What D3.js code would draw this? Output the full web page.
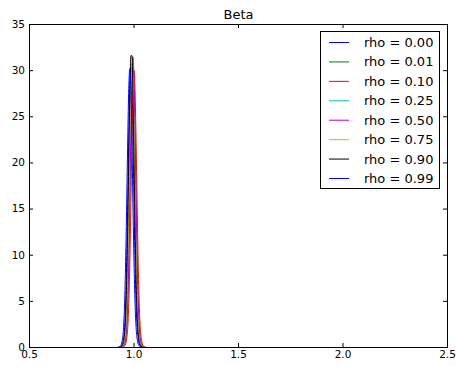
<!DOCTYPE html>
<html>
<head>
<meta charset="utf-8">
<script src="https://cdn.jsdelivr.net/npm/d3@7"></script>
<style>
  body { margin: 0; background: #fff; }
  svg { display: block; }
</style>
</head>
<body>
<div id="wrapper"></div>
<script>
// x grid shared by all curves (0.920 .. 1.065, step 0.005)
const xGrid = [0.920, 0.925, 0.930, 0.935, 0.940, 0.945, 0.950, 0.955, 0.960, 0.965,
    0.970, 0.975, 0.980, 0.985, 0.990, 0.995, 1.000, 1.005, 1.010, 1.015,
    1.020, 1.025, 1.030, 1.035, 1.040, 1.045, 1.050, 1.055, 1.060, 1.065];

const seriesLabels = ["rho = 0.00", "rho = 0.01", "rho = 0.10", "rho = 0.25",
    "rho = 0.50", "rho = 0.75", "rho = 0.90", "rho = 0.99"];

const rho000 = [0, 0.01, 0.03, 0.07, 0.17, 0.40, 0.94, 2.19, 4.83, 9.36, 15.69, 22.65, 28.24, 30.4,
    28.24, 22.65, 15.69, 9.36, 4.83, 2.19, 0.94, 0.40, 0.17, 0.07, 0.03, 0.01, 0, 0, 0, 0];
const rho001 = [0, 0, 0, 0.01, 0.03, 0.07, 0.17, 0.39, 0.94, 2.17, 4.80, 9.30, 15.58, 22.50, 28.06,
    30.2, 28.06, 22.50, 15.58, 9.30, 4.80, 2.17, 0.94, 0.39, 0.17, 0.07, 0.03, 0.01, 0, 0];
const rho010 = [0, 0, 0, 0, 0.01, 0.03, 0.07, 0.17, 0.39, 0.93, 2.16, 4.77, 9.24, 15.48, 22.35, 27.87,
    30.0, 27.87, 22.35, 15.48, 9.24, 4.77, 2.16, 0.93, 0.39, 0.17, 0.07, 0.03, 0.01, 0];
const rho025 = [0, 0, 0, 0.02, 0.05, 0.11, 0.26, 0.61, 1.42, 3.27, 6.85, 12.30, 19.15, 25.69, 29.75,
    29.75, 25.69, 19.15, 12.30, 6.85, 3.27, 1.42, 0.61, 0.26, 0.11, 0.05, 0.02, 0, 0, 0];
const rho050 = [0, 0, 0, 0.01, 0.03, 0.07, 0.17, 0.41, 0.98, 2.27, 5.01, 9.70, 16.25, 23.47, 29.26,
    31.5, 29.26, 23.47, 16.25, 9.70, 5.01, 2.27, 0.98, 0.41, 0.17, 0.07, 0.03, 0.01, 0, 0];
const rho075 = [0, 0, 0.01, 0.03, 0.07, 0.17, 0.40, 0.95, 2.22, 4.90, 9.49, 15.89, 22.95, 28.61, 30.8,
    28.61, 22.95, 15.89, 9.49, 4.90, 2.22, 0.95, 0.40, 0.17, 0.07, 0.03, 0.01, 0, 0, 0];
const rho090 = [0, 0, 0.02, 0.05, 0.11, 0.27, 0.64, 1.51, 3.48, 7.28, 13.07, 20.35, 27.31, 31.62, 31.62,
    27.31, 20.35, 13.07, 7.28, 3.48, 1.51, 0.64, 0.27, 0.11, 0.05, 0.02, 0, 0, 0, 0];
const rho099 = [0.01, 0.03, 0.07, 0.17, 0.39, 0.94, 2.17, 4.80, 9.30, 15.58, 22.50, 28.06, 30.2, 28.06,
    22.50, 15.58, 9.30, 4.80, 2.17, 0.94, 0.39, 0.17, 0.07, 0.03, 0.01, 0, 0, 0, 0, 0];

const seriesValues = [rho000, rho001, rho010, rho025, rho050, rho075, rho090, rho099];
const seriesColors = ["#0000ff", "#008000", "#ff0000", "#00bfbf", "#bf00bf", "#bfbf00", "#000000", "#0000ff"];

const xTicks = [0.5, 1.0, 1.5, 2.0, 2.5];
const yTicks = [0, 5, 10, 15, 20, 25, 30, 35];

const FONT = "'DejaVu Sans', sans-serif";

const width = 456;
const height = 366;

const svg = d3.select("#wrapper")
    .append("svg")
    .attr("width", width)
    .attr("height", height);

const xScale = d3.scaleLinear()
    .domain([0.5, 2.5])
    .range([29, 447]);

const yScale = d3.scaleLinear()
    .domain([0, 35])
    .range([347, 24]);

svg.append("defs").append("clipPath")
    .attr("id", "plot-clip")
    .append("rect")
    .attr("x", 29.5)
    .attr("y", 24.5)
    .attr("width", 418)
    .attr("height", 323);

// curves
const lineGen = d3.line()
    .x((d, i) => xScale(xGrid[i]) + 0.5)
    .y(d => yScale(d) + 0.5)
    .curve(d3.curveMonotoneX);

const curves = svg.append("g").attr("clip-path", "url(#plot-clip)");
seriesValues.forEach((vals, i) => {
    curves.append("path")
        .attr("d", lineGen(vals))
        .attr("fill", "none")
        .attr("stroke", seriesColors[i])
        .attr("stroke-width", 1);
});

// axes (inward ticks on all four sides)
const styleAxis = g => {
    g.select(".domain").remove();
    g.selectAll(".tick line").attr("stroke", "#000");
    g.selectAll("text")
        .attr("fill", "#000")
        .style("font-family", FONT)
        .style("font-size", "10.5px");
};

svg.append("g")
    .attr("transform", "translate(0,347)")
    .call(d3.axisBottom(xScale).tickValues(xTicks).tickFormat(d3.format(".1f"))
        .tickSizeInner(-4).tickSizeOuter(0).tickPadding(4))
    .call(styleAxis);

svg.append("g")
    .attr("transform", "translate(0,24)")
    .call(d3.axisTop(xScale).tickValues(xTicks).tickFormat("")
        .tickSizeInner(-4).tickSizeOuter(0))
    .call(styleAxis);

svg.append("g")
    .attr("transform", "translate(29,0)")
    .call(d3.axisLeft(yScale).tickValues(yTicks).tickFormat(d3.format("d"))
        .tickSizeInner(-4).tickSizeOuter(0).tickPadding(4))
    .call(styleAxis);

svg.append("g")
    .attr("transform", "translate(447,0)")
    .call(d3.axisRight(yScale).tickValues(yTicks).tickFormat("")
        .tickSizeInner(-4).tickSizeOuter(0))
    .call(styleAxis);

// frame
svg.append("rect")
    .attr("x", 29.5)
    .attr("y", 24.5)
    .attr("width", 418)
    .attr("height", 323)
    .attr("fill", "none")
    .attr("stroke", "#000")
    .attr("stroke-width", 1);

// title
svg.append("text")
    .attr("x", 238.5)
    .attr("y", 19)
    .attr("text-anchor", "middle")
    .style("font-family", FONT)
    .style("font-size", "13px")
    .text("Beta");

// legend
const legend = svg.append("g");
legend.append("rect")
    .attr("x", 320.5)
    .attr("y", 31.5)
    .attr("width", 119)
    .attr("height", 157)
    .attr("fill", "#fff")
    .attr("stroke", "#000")
    .attr("stroke-width", 1);

const rowScale = d3.scalePoint()
    .domain(seriesLabels)
    .range([42.5, 178.5]);

seriesLabels.forEach((label, i) => {
    const y = rowScale(label);
    legend.append("line")
        .attr("x1", 329)
        .attr("x2", 349)
        .attr("y1", y)
        .attr("y2", y)
        .attr("stroke", seriesColors[i])
        .attr("stroke-width", 1);
    legend.append("text")
        .attr("x", 364)
        .attr("y", y)
        .attr("dy", "0.35em")
        .style("font-family", FONT)
        .style("font-size", "13px")
        .text(label);
});
</script>
</body>
</html>
